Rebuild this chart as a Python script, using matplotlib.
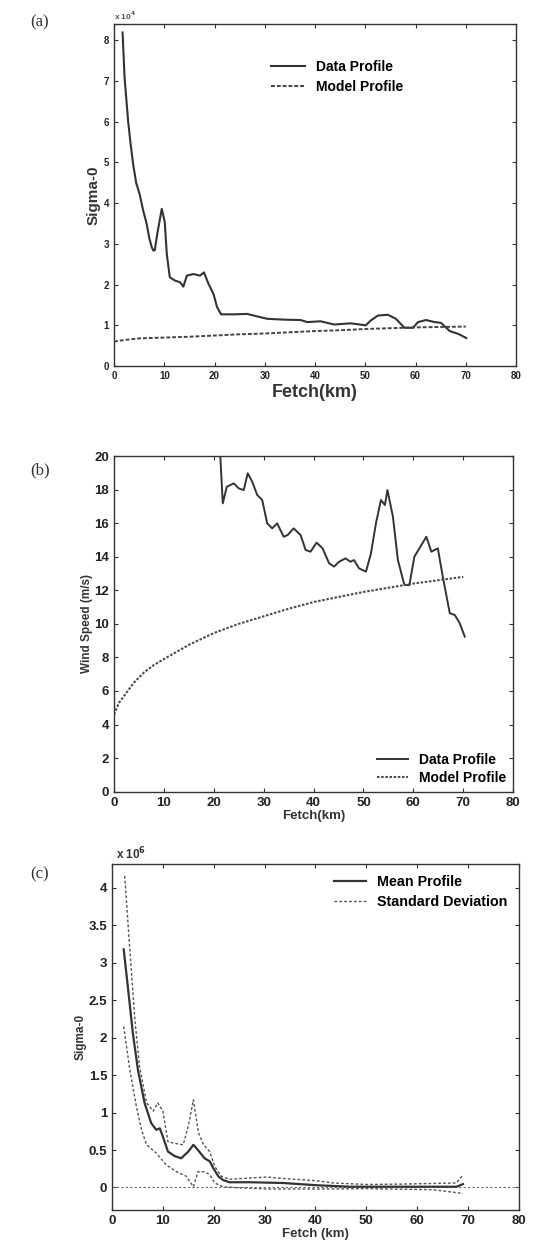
import matplotlib
matplotlib.use("Agg")
import matplotlib.pyplot as plt

# (a) sigma-0 along fetch, x 10^4
fetch_a = [1.7, 2.1, 2.8, 3.3, 3.8, 4.4, 5.1, 5.8, 6.5, 7.0, 7.5, 7.8, 8.1, 8.6, 9.5,
           10.1, 10.5, 11.1, 12.1, 13.1, 13.8, 14.5, 15.8, 17.1, 17.9, 18.8, 19.8,
           20.5, 21.3, 23.8, 26.5, 27.8, 30.5, 33.8, 37.1, 38.5, 41.1, 43.8, 47.1,
           50.1, 51.1, 52.5, 54.5, 56.1, 57.8, 59.5, 60.5, 62.1, 63.8, 65.1, 66.8,
           68.5, 70.1]
sigma_a = [8.19, 7.08, 6.02, 5.45, 4.96, 4.50, 4.22, 3.82, 3.49, 3.15, 2.92, 2.84,
           2.84, 3.24, 3.86, 3.53, 2.75, 2.18, 2.10, 2.06, 1.95, 2.22, 2.26, 2.22,
           2.30, 2.02, 1.77, 1.45, 1.27, 1.27, 1.28, 1.24, 1.16, 1.14, 1.13, 1.08,
           1.10, 1.02, 1.05, 1.00, 1.12, 1.24, 1.26, 1.16, 0.94, 0.94, 1.08, 1.13,
           1.08, 1.06, 0.86, 0.79, 0.69]
model_fetch_a = [0, 2, 5, 10, 15, 20, 25, 30, 35, 40, 45, 50, 55, 60, 65, 70]
model_sigma_a = [0.60, 0.64, 0.68, 0.70, 0.72, 0.75, 0.78, 0.80, 0.83, 0.86, 0.88,
                 0.91, 0.93, 0.95, 0.96, 0.97]

# (b) wind speed along fetch
fetch_b = [0, 21.3, 21.8, 22.6, 24.0, 25.0, 26.0, 26.8, 27.7, 28.7, 29.7, 30.7,
           31.7, 32.7, 34.0, 34.8, 36.0, 37.4, 38.4, 39.4, 40.6, 41.8, 43.1, 44.1,
           45.1, 46.4, 47.4, 48.1, 49.1, 50.5, 51.5, 52.5, 53.5, 54.3, 54.8, 55.9,
           56.9, 58.2, 59.2, 60.2, 62.6, 63.6, 64.9, 65.9, 67.3, 68.3, 69.3, 70.3]
wind_b = [20.0, 20.0, 17.18, 18.17, 18.37, 18.07, 17.97, 18.97, 18.47, 17.68, 17.38,
          15.99, 15.69, 15.99, 15.19, 15.29, 15.69, 15.29, 14.40, 14.30, 14.84, 14.50,
          13.61, 13.41, 13.70, 13.90, 13.70, 13.80, 13.31, 13.11, 14.20, 15.99, 17.38,
          17.08, 17.97, 16.39, 13.80, 12.31, 12.31, 14.00, 15.19, 14.30, 14.50, 12.81,
          10.63, 10.53, 10.03, 9.24]
model_fetch_b = [0, 1, 2, 4, 6, 8, 10, 15, 20, 25, 30, 35, 40, 45, 50, 55, 60, 65, 70]
model_wind_b = [4.6, 5.3, 5.7, 6.5, 7.1, 7.55, 7.9, 8.75, 9.45, 10.0, 10.45, 10.9,
                11.3, 11.6, 11.9, 12.15, 12.4, 12.6, 12.8]

# (c) mean sigma-0 and +/- one standard deviation, x 10^6
fetch_mean = [2.3, 3.1, 4.1, 5.1, 6.4, 7.7, 8.7, 9.4, 10.0, 11.0, 12.3, 13.6, 15.0,
              16.0, 16.9, 18.2, 19.2, 19.9, 20.9, 21.8, 23.1, 27.1, 33.6, 40.2, 46.8,
              53.3, 59.9, 67.7, 69.0]
sigma_mean = [3.18, 2.69, 2.06, 1.57, 1.13, 0.86, 0.77, 0.79, 0.68, 0.48, 0.42, 0.39,
              0.48, 0.57, 0.50, 0.39, 0.35, 0.26, 0.15, 0.10, 0.07, 0.07, 0.06, 0.03,
              0.01, 0.01, 0.01, 0.01, 0.045]
fetch_upper = [2.5, 3.5, 4.5, 5.4, 6.8, 8.1, 9.0, 10.0, 11.0, 12.3, 14.0, 15.0, 16.0,
               17.0, 18.0, 19.2, 20.2, 21.5, 23.1, 30.4, 33.6, 40.2, 43.5, 50.0, 56.6,
               67.7, 69.0]
sigma_upper = [4.16, 3.18, 2.24, 1.62, 1.13, 1.02, 1.13, 1.02, 0.61, 0.59, 0.57, 0.82,
               1.17, 0.73, 0.57, 0.48, 0.28, 0.15, 0.11, 0.14, 0.12, 0.09, 0.06, 0.04,
               0.045, 0.06, 0.17]
fetch_lower = [2.3, 3.5, 4.8, 5.8, 6.8, 8.7, 10.7, 12.7, 14.6, 16.0, 16.9, 18.2, 19.2,
               20.2, 21.8, 23.8, 30.4, 37.0, 43.5, 50.0, 63.2, 69.0]
sigma_lower = [2.15, 1.57, 1.08, 0.77, 0.57, 0.46, 0.30, 0.21, 0.15, 0.01, 0.21, 0.21,
               0.17, 0.06, 0.01, 0.0, -0.02, -0.02, -0.02, -0.015, -0.03, -0.08]

plt.rcParams.update({'font.family': ['Liberation Sans', 'DejaVu Sans'],
                     'font.weight': 'bold',
                     'axes.labelweight': 'bold'})

fig = plt.figure(figsize=(5.49, 12.58), dpi=100)
ax_a = fig.add_axes([0.2077, 0.709, 0.7322, 0.272])
ax_b = fig.add_axes([0.2077, 0.3707, 0.727, 0.2668])
ax_c = fig.add_axes([0.204, 0.0382, 0.7413, 0.275])


def style_axes(ax, size):
    for side in ax.spines.values():
        side.set_linewidth(1.0)
        side.set_color('#333333')
    ax.tick_params(axis='both', which='major', labelsize=size, length=3,
                   width=0.8, colors='#333333', labelcolor='#222222')
    ax.tick_params(axis='x', direction='in', top=True)
    ax.tick_params(axis='y', direction='in', left=True, right=True)
    for lbl in ax.get_xticklabels() + ax.get_yticklabels():
        lbl.set_fontweight('bold')


# --- (a) ---
ax_a.plot(fetch_a, sigma_a, color='#333333', lw=1.5, label='Data Profile')
ax_a.plot(model_fetch_a, model_sigma_a, color='#444444', lw=1.4, ls=(0, (2, 1)),
          label='Model Profile')
ax_a.set_xlim(0, 80)
ax_a.set_ylim(0, 8.4)
ax_a.set_xticks(range(0, 81, 10))
ax_a.set_yticks(range(0, 9))
style_axes(ax_a, 7)
ax_a.set_xlabel('Fetch(km)', fontsize=13, labelpad=2, color='#333333')
ax_a.set_ylabel('Sigma-0', fontsize=11, labelpad=2, color='#333333')
ax_a.text(0.0, 1.005, 'x 10$^{4}$', transform=ax_a.transAxes, fontsize=6,
          color='#555555', va='bottom')
ax_a.legend(loc='upper left', bbox_to_anchor=(0.36, 0.93), frameon=False,
            fontsize=10, handlelength=2.4, labelspacing=0.4)

# --- (b) ---
ax_b.plot(fetch_b, wind_b, color='#333333', lw=1.4, label='Data Profile')
ax_b.plot(model_fetch_b, model_wind_b, color='#4a4a4a', lw=1.5, ls=(0, (1.2, 0.8)),
          label='Model Profile')
ax_b.set_xlim(0, 80)
ax_b.set_ylim(0, 20)
ax_b.set_xticks(range(0, 81, 10))
ax_b.set_yticks(range(0, 21, 2))
style_axes(ax_b, 9.5)
ax_b.set_xlabel('Fetch(km)', fontsize=9.5, labelpad=1, color='#333333')
ax_b.set_ylabel('Wind Speed (m/s)', fontsize=8.5, labelpad=1, color='#333333')
ax_b.legend(loc='lower right', frameon=False, fontsize=10, handlelength=2.2,
            labelspacing=0.3, borderaxespad=0.1)

# --- (c) ---
ax_c.axhline(0, color='#666666', lw=0.8, ls=(0, (2, 2)))
ax_c.plot(fetch_mean, sigma_mean, color='#333333', lw=1.6, label='Mean Profile')
ax_c.plot(fetch_upper, sigma_upper, color='#555555', lw=1.0, ls=(0, (2, 1.5)),
          label='Standard Deviation')
ax_c.plot(fetch_lower, sigma_lower, color='#555555', lw=1.0, ls=(0, (2, 1.5)))
ax_c.set_xlim(0, 80)
ax_c.set_ylim(-0.3, 4.32)
ax_c.set_xticks(range(0, 81, 10))
ax_c.set_yticks([0, 0.5, 1, 1.5, 2, 2.5, 3, 3.5, 4])
ax_c.set_yticklabels(['0', '0.5', '1', '1.5', '2', '2.5', '3', '3.5', '4'])
style_axes(ax_c, 9.5)
ax_c.set_xlabel('Fetch (km)', fontsize=9.5, labelpad=1, color='#333333')
ax_c.set_ylabel('Sigma-0', fontsize=8.5, labelpad=1, color='#333333')
ax_c.text(0.01, 1.005, 'x 10$^{6}$', transform=ax_c.transAxes, fontsize=8.5,
          color='#333333', va='bottom')
ax_c.legend(loc='upper right', frameon=False, fontsize=10.3, handlelength=2.2,
            labelspacing=0.4, borderaxespad=0.4)

# panel letters
for y, tag in [(0.982, '(a)'), (0.626, '(b)'), (0.305, '(c)')]:
    fig.text(0.055, y, tag, fontsize=12, family='Liberation Serif',
             fontweight='normal', color='#333333', va='center')

fig.savefig('out.png', dpi=100)
